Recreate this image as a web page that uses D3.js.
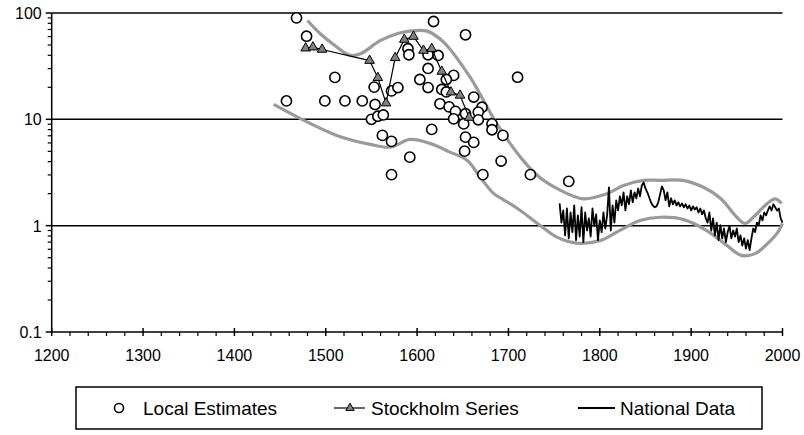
<!DOCTYPE html>
<html><head><meta charset="utf-8">
<script src="https://cdn.jsdelivr.net/npm/d3@7"></script>
<style>
body{margin:0;background:#fff}
svg{display:block}
text{font-family:"Liberation Sans",Arial,sans-serif;font-size:16px;fill:#000}
.lg text{font-size:19px}
</style>
</head><body>
<svg id="c" width="804" height="435"></svg>
<script>
// ---------- DATA ----------
const xTicks = [1200,1300,1400,1500,1600,1700,1800,1900,2000];
const yTicks = [0.1,1,10,100];
const yTickLabels = ["0.1","1","10","100"];
const legendLabels = ["Local Estimates","Stockholm Series","National Data"];

const localYears  = [1468,1479,1457,1499,1521,1540,1510,1553,1554,1550,1557,1563,1562,1572,1572,1592,1572,1579,1590,1591,1618,1653,1612,1623,1612,1603,1612,1640,1632,1627,1632,1625,1635,1642,1640,1653,1651,1662,1671,1667,1667,1682,1682,1694,1653,1662,1652,1616,1692,1672,1724,1710,1766];
const localValues = [90,60.5,14.9,14.9,14.9,14.9,24.8,20.1,13.8,10.0,10.7,11.0,7.06,6.2,3.02,4.41,18.5,19.9,46.1,40.5,83.2,62.4,40.5,39.9,30.1,23.7,19.9,25.9,23.7,19.1,18.1,14.0,13.1,11.9,10.1,11.3,9.06,16.2,13.0,11.7,9.9,9.06,7.98,7.06,6.8,6.07,5.02,8.04,4.05,3.02,3.02,24.9,2.61];

const stockYears  = [1478,1486,1496,1548,1557,1566,1576,1586,1596,1607,1616,1627,1637,1647,1657];
const stockValues = [46.7,47.7,45.4,35.7,24.6,14.2,37.9,56.3,60.1,44.4,46.1,28.2,18.0,16.8,10.4];

const nationalYears = d3.range(1756, 2001, 2);
const nationalValues = [
 1.62,1.07,1.39,0.81,1.45,0.76,1.33,0.87,1.55,0.73, // 1756-1774
 1.25,0.79,1.49,0.70,1.33,0.90,1.17,0.79,1.45,0.99, // 1776-1794
 1.28,0.73,1.12,0.87,1.33,0.94,1.25,2.29,0.90,1.55, // 1796-1814
 1.07,1.73,1.39,1.89,1.55,2.06,1.39,1.89,1.59,2.15, // 1816-1834
 1.66,2.06,1.81,2.24,1.89,2.39,2.55,2.24,2.06,1.85, // 1836-1854
 1.66,1.55,1.49,1.52,1.66,1.97,2.34,2.15,1.73,2.06, // 1856-1874
 1.52,1.81,1.59,1.73,1.55,1.66,1.52,1.62,1.49,1.59, // 1876-1894
 1.45,1.55,1.39,1.52,1.42,1.49,1.33,1.45,1.28,1.39, // 1896-1914
 1.17,1.07,1.33,0.90,1.17,0.81,1.07,0.73,1.01,0.76, // 1916-1934
 0.94,0.70,0.87,0.99,0.76,0.90,0.79,0.94,0.70,0.81, // 1936-1954
 0.65,0.76,0.61,0.73,0.59,0.76,0.94,0.87,1.07,1.01, // 1956-1974
 1.25,1.12,1.33,1.25,1.39,1.52,1.39,1.59,1.49,1.39, // 1976-1994
 1.45,1.17,1.07                                      // 1996-2000
];

const upperYears  = [1480,1494,1510,1527,1538,1560,1578,1592,1611,1629,1658,1687,1716,1735,1757,1782,1808,1826,1848,1866,1891,1913,1932,1950,1959,1968,1983,1992,1999];
const upperValues = [85.1,63.8,49.5,39.9,41.4,55.2,63.8,67.5,67.5,53.2,24.9,9.15,4.11,2.8,2.15,1.79,2.0,2.39,2.67,2.67,2.67,2.31,1.81,1.20,1.05,1.20,1.61,1.79,1.62];

const lowerYears  = [1443,1476,1512,1549,1571,1592,1614,1636,1655,1669,1684,1694,1713,1735,1753,1775,1801,1822,1844,1866,1892,1917,1939,1955,1970,1985,1995,2000];
const lowerValues = [13.8,9.78,7.06,5.81,5.48,6.47,5.94,4.92,4.11,2.86,2.0,1.77,1.39,1.0,0.78,0.686,0.727,0.903,1.12,1.20,1.14,0.90,0.653,0.526,0.546,0.697,0.87,1.05];

// ---------- CHART ----------
const svg = d3.select("#c");
const x = d3.scaleLinear().domain([1200,2000]).range([51.7,782.5]);
const y = d3.scaleLog().domain([0.1,100]).range([332,13]);

// gridlines
svg.append("g").selectAll("line").data(yTicks.filter(v=>v>0.1)).join("line")
  .attr("x1",x(1200)).attr("x2",x(2000))
  .attr("y1",d=>y(d)).attr("y2",d=>y(d))
  .attr("stroke","#000").attr("stroke-width",1.5);

// y axis
const yMinor = [];
[0.1,1,10].forEach(d=>{for(let k=2;k<=9;k++) yMinor.push(d*k);});
const yAx = svg.append("g");
yAx.append("line").attr("x1",x(1200)).attr("x2",x(1200)).attr("y1",y(100)).attr("y2",y(0.1)).attr("stroke","#000").attr("stroke-width",1.5);
yAx.selectAll(".mj").data(yTicks).join("line").attr("class","mj")
  .attr("x1",x(1200)-6).attr("x2",x(1200)).attr("y1",d=>y(d)).attr("y2",d=>y(d)).attr("stroke","#000").attr("stroke-width",1.5);
yAx.selectAll(".mn").data(yMinor).join("line").attr("class","mn")
  .attr("x1",x(1200)-4).attr("x2",x(1200)).attr("y1",d=>y(d)).attr("y2",d=>y(d)).attr("stroke","#000").attr("stroke-width",1.2);
yAx.selectAll("text").data(yTicks).join("text")
  .attr("x",x(1200)-10).attr("y",d=>y(d)+6).attr("text-anchor","end")
  .text((d,i)=>yTickLabels[i]);

// x axis
const xMinor = d3.range(1200,2001,20).filter(v=>v%100!==0);
const xAx = svg.append("g");
xAx.append("line").attr("x1",x(1200)).attr("x2",x(2000)).attr("y1",y(0.1)).attr("y2",y(0.1)).attr("stroke","#000").attr("stroke-width",1.5);
xAx.selectAll(".mj").data(xTicks).join("line").attr("class","mj")
  .attr("x1",d=>x(d)).attr("x2",d=>x(d)).attr("y1",y(0.1)-4).attr("y2",y(0.1)+4).attr("stroke","#000").attr("stroke-width",1.5);
xAx.selectAll(".mn").data(xMinor).join("line").attr("class","mn")
  .attr("x1",d=>x(d)).attr("x2",d=>x(d)).attr("y1",y(0.1)).attr("y2",y(0.1)+4).attr("stroke","#000").attr("stroke-width",1.2);
xAx.selectAll("text").data(xTicks).join("text")
  .attr("x",d=>x(d)).attr("y",y(0.1)+29).attr("text-anchor","middle").text(d=>d);

// envelope curves
const env = d3.line().x(d=>x(d[0])).y(d=>y(d[1])).curve(d3.curveCatmullRom.alpha(0.5));
svg.append("path").datum(upperYears.map((d,i)=>[d,upperValues[i]]))
  .attr("d",env).attr("fill","none").attr("stroke","#9a9a9a").attr("stroke-width",3.2);
svg.append("path").datum(lowerYears.map((d,i)=>[d,lowerValues[i]]))
  .attr("d",env).attr("fill","none").attr("stroke","#9a9a9a").attr("stroke-width",3.2);

// national data
const lin = d3.line().x(d=>x(d[0])).y(d=>y(d[1]));
svg.append("path").datum(nationalYears.map((d,i)=>[d,nationalValues[i]]))
  .attr("d",lin).attr("fill","none").attr("stroke","#000").attr("stroke-width",1.8).attr("stroke-linejoin","round");

// local estimates
svg.append("g").selectAll("circle").data(localYears.map((d,i)=>[d,localValues[i]])).join("circle")
  .attr("cx",d=>x(d[0])).attr("cy",d=>y(d[1])).attr("r",5.1)
  .attr("fill","#fff").attr("stroke","#000").attr("stroke-width",1.6);

// stockholm series
const stock = stockYears.map((d,i)=>[d,stockValues[i]]);
svg.append("path").datum(stock).attr("d",lin).attr("fill","none").attr("stroke","#000").attr("stroke-width",1.2);
const tri = d3.symbol().type(d3.symbolTriangle).size(40);
svg.append("g").selectAll("path").data(stock).join("path")
  .attr("d",tri).attr("transform",d=>`translate(${x(d[0])},${y(d[1])})`)
  .attr("fill","#808080").attr("stroke","#000").attr("stroke-width",1);

// legend
const lg = svg.append("g").attr("class","lg");
lg.append("rect").attr("x",76).attr("y",387).attr("width",686).attr("height",42)
  .attr("fill","#fff").attr("stroke","#000").attr("stroke-width",1.5);
lg.append("circle").attr("cx",119).attr("cy",408).attr("r",4.5).attr("fill","#fff").attr("stroke","#000").attr("stroke-width",1.5);
lg.append("text").attr("x",143).attr("y",415).text(legendLabels[0]);
lg.append("line").attr("x1",334).attr("x2",365).attr("y1",408).attr("y2",408).attr("stroke","#000").attr("stroke-width",1.2);
lg.append("path").attr("d",d3.symbol().type(d3.symbolTriangle).size(30)).attr("transform","translate(350,408)")
  .attr("fill","#808080").attr("stroke","#000").attr("stroke-width",1);
lg.append("text").attr("x",371).attr("y",415).text(legendLabels[1]);
lg.append("line").attr("x1",578).attr("x2",615).attr("y1",408).attr("y2",408).attr("stroke","#000").attr("stroke-width",1.8);
lg.append("text").attr("x",620).attr("y",415).text(legendLabels[2]);
</script>
</body></html>
